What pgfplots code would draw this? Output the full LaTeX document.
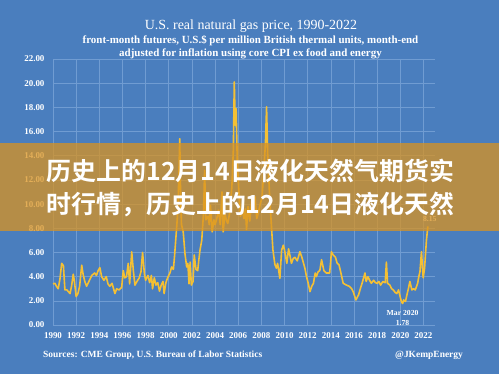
\documentclass[border=0pt]{standalone}
\usepackage{pgfplots}
\pgfplotsset{compat=1.18}
\usepackage{fontspec}
\setmainfont{Liberation Serif}
\newfontfamily\cjk{Noto Sans CJK SC}[BoldFont={Noto Sans CJK SC Bold}]
\definecolor{bg}{RGB}{74,126,190}
\definecolor{gridc}{RGB}{112,156,210}
\definecolor{gold}{RGB}{244,192,52}
\definecolor{banner}{RGB}{218,147,32}
\pgfplotstableread{
x y
1990.0 3.4
1990.17 3.45
1990.3 3.2
1990.45 3.0
1990.6 3.8
1990.75 5.1
1990.9 4.9
1991.03 2.9
1991.2 2.9
1991.47 2.6
1991.6 3.2
1991.75 4.2
1991.85 3.6
1992.0 2.35
1992.15 2.6
1992.3 3.2
1992.48 4.95
1992.6 4.2
1992.75 3.6
1992.9 3.2
1993.1 3.6
1993.35 4.1
1993.6 4.3
1993.75 4.1
1993.9 4.5
1994.05 4.75
1994.2 4.0
1994.4 3.7
1994.6 4.0
1994.75 3.4
1994.9 3.2
1995.1 3.45
1995.35 2.6
1995.5 3.0
1995.7 2.9
1995.93 3.1
1996.07 4.5
1996.2 3.9
1996.35 4.0
1996.5 5.1
1996.62 3.4
1996.8 6.05
1996.95 4.4
1997.08 3.3
1997.25 3.6
1997.45 3.9
1997.6 4.4
1997.74 6.0
1997.9 4.2
1998.0 3.7
1998.2 4.1
1998.35 3.5
1998.5 4.1
1998.6 3.0
1998.75 3.9
1998.9 3.3
1999.05 3.5
1999.2 2.8
1999.35 3.3
1999.5 3.6
1999.6 2.6
1999.75 3.5
1999.9 3.9
2000.1 4.3
2000.25 4.8
2000.4 4.6
2000.5 5.7
2000.6 7.0
2000.7 8.3
2000.8 9.8
2000.95 15.4
2001.02 10.9
2001.1 8.3
2001.25 7.7
2001.4 5.9
2001.55 4.8
2001.65 5.1
2001.75 3.4
2001.85 5.2
2001.95 3.3
2002.1 3.6
2002.2 5.8
2002.35 4.6
2002.5 4.5
2002.6 5.4
2002.7 6.2
2002.85 7.0
2003.0 9.2
2003.1 12.8
2003.2 8.7
2003.4 9.0
2003.5 8.3
2003.6 9.9
2003.75 7.7
2003.9 8.7
2004.0 8.3
2004.15 8.8
2004.3 9.5
2004.45 8.3
2004.6 11.0
2004.7 7.7
2004.85 9.2
2005.0 8.6
2005.1 8.4
2005.3 9.5
2005.45 11.4
2005.58 14.5
2005.66 20.1
2005.75 16.5
2005.82 17.9
2005.92 13.5
2006.05 11.2
2006.2 9.0
2006.35 9.6
2006.5 8.8
2006.62 9.6
2006.72 7.9
2006.85 9.8
2007.0 8.6
2007.15 10.2
2007.3 10.0
2007.45 10.6
2007.6 8.8
2007.75 9.3
2007.9 10.0
2008.05 10.5
2008.2 12.5
2008.35 15.0
2008.45 18.05
2008.55 14.0
2008.7 10.9
2008.85 8.5
2009.0 6.2
2009.17 5.0
2009.3 4.7
2009.4 5.1
2009.6 3.86
2009.75 6.2
2009.9 6.6
2010.0 6.2
2010.2 5.1
2010.35 6.3
2010.5 5.6
2010.6 5.1
2010.75 5.5
2010.9 5.6
2011.1 5.3
2011.33 6.06
2011.5 5.6
2011.76 4.7
2011.9 4.0
2012.05 3.45
2012.2 2.76
2012.35 3.2
2012.5 3.45
2012.65 4.3
2012.75 4.0
2012.9 4.4
2013.05 4.5
2013.2 5.4
2013.4 4.5
2013.6 4.3
2013.9 4.3
2014.0 5.4
2014.05 6.06
2014.2 5.8
2014.4 5.6
2014.55 5.1
2014.7 5.0
2014.85 4.4
2015.07 3.45
2015.35 3.3
2015.6 3.2
2015.8 3.0
2015.93 2.76
2016.17 2.07
2016.4 2.5
2016.55 3.0
2016.7 3.45
2016.95 4.3
2017.05 3.6
2017.2 4.0
2017.35 3.7
2017.5 3.45
2017.7 3.7
2017.85 3.5
2018.0 3.45
2018.15 3.6
2018.3 3.3
2018.5 3.6
2018.7 3.5
2018.8 5.2
2018.9 3.45
2019.1 3.3
2019.25 3.0
2019.4 2.9
2019.55 2.7
2019.7 2.6
2019.85 2.9
2020.0 2.3
2020.1 1.93
2020.2 1.78
2020.3 2.07
2020.45 1.95
2020.6 2.6
2020.7 3.0
2020.83 3.6
2021.0 2.9
2021.15 3.0
2021.3 2.9
2021.5 3.45
2021.6 4.0
2021.7 4.4
2021.83 6.06
2021.98 3.9
2022.1 4.7
2022.26 7.0
2022.38 8.15
}\gas
\begin{document}
\begin{tikzpicture}
\fill[bg] (0,0) rectangle (499bp,374bp);
\begin{axis}[at={(53bp,49bp)}, anchor=south west, scale only axis,
  width=382bp, height=266bp, xmin=1990, xmax=2023, ymin=0, ymax=22,
  xtick={1990,1992,...,2022},
  xticklabels={1990,1992,1994,1996,1998,2000,2002,2004,2006,2008,2010,2012,2014,2016,2018,2020,2022},
  ytick={0,2,...,22},
  yticklabels={0.00,2.00,4.00,6.00,8.00,10.00,12.00,14.00,16.00,18.00,20.00,22.00},
  grid=major, major grid style={gridc, line width=0.6bp},
  axis line style={draw=none}, major tick length=0pt,
  tick label style={font=\bfseries\fontsize{9}{10}\selectfont, text=white},
  xticklabel style={yshift=-4bp}, yticklabel style={xshift=-5bp},
  clip=false]
\addplot[gold, line width=1.6bp, line join=round] table[x=x,y=y] {\gas};
\node[text=white, font=\bfseries\fontsize{7.7}{8}\selectfont] at (axis cs:2020.2,1.0) {Mar 2020};
\node[text=white, font=\bfseries\fontsize{7.7}{8}\selectfont] at (axis cs:2020.2,0.17) {1.78};
\node[text=white, font=\bfseries\fontsize{7.7}{8}\selectfont] at (axis cs:2022.55,8.75) {8.15};
\end{axis}
\fill[banner, opacity=0.75] (0,143bp) rectangle (499bp,231bp);
\node[anchor=west, inner sep=0, text=white, font=\cjk\bfseries\fontsize{25}{27}\selectfont] at (46.5bp,203bp)
  {历史上的12月14日液化天然气期货实};
\node[anchor=west, inner sep=0, text=white, font=\cjk\bfseries\fontsize{25}{27}\selectfont] at (46.5bp,169.5bp)
  {时行情，历史上的12月14日液化天然};
\node[text=white, font=\fontsize{14}{16}\selectfont] at (251bp,347.5bp) {U.S. real natural gas price, 1990-2022};
\node[text=white, font=\bfseries\fontsize{11}{12}\selectfont] at (250.5bp,333.5bp) {front-month futures, U.S.\$ per million British thermal units, month-end};
\node[text=white, font=\bfseries\fontsize{11}{12}\selectfont] at (250.5bp,320.5bp) {adjusted for inflation using core CPI ex food and energy};
\node[anchor=west, inner sep=0, text=white, font=\bfseries\fontsize{9.5}{11}\selectfont] at (43bp,19bp) {Sources: CME Group, U.S. Bureau of Labor Statistics};
\node[anchor=west, inner sep=0, text=white, font=\bfseries\fontsize{9.5}{11}\selectfont] at (395bp,19bp) {@JKempEnergy};
\end{tikzpicture}
\end{document}
